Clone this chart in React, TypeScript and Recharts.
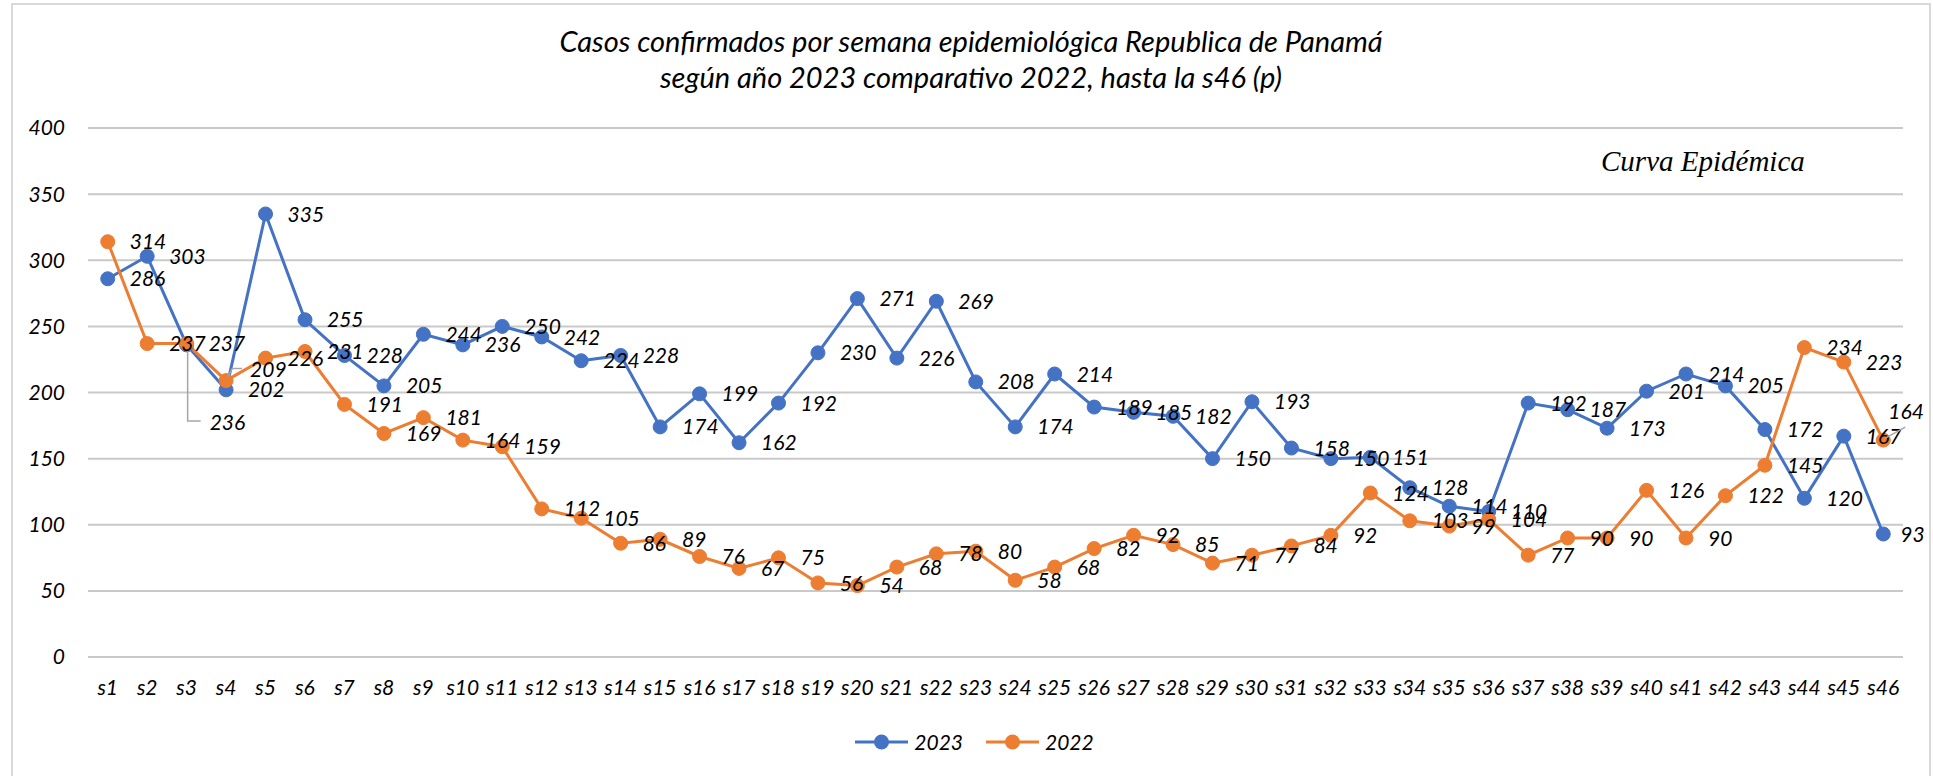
import React from 'react';
import { LineChart, Line, XAxis, YAxis, CartesianGrid, Legend, LabelList, Customized } from 'recharts';

const weeks = ['s1','s2','s3','s4','s5','s6','s7','s8','s9','s10','s11','s12','s13','s14','s15','s16','s17','s18','s19','s20','s21','s22','s23','s24','s25','s26','s27','s28','s29','s30','s31','s32','s33','s34','s35','s36','s37','s38','s39','s40','s41','s42','s43','s44','s45','s46'];
const cases2023 = [286,303,236,202,335,255,228,205,244,236,250,242,224,228,174,199,162,192,230,271,226,269,208,174,214,189,185,182,150,193,158,150,151,128,114,110,192,187,173,201,214,205,172,120,167,93];
const cases2022 = [314,237,237,209,226,231,191,169,181,164,159,112,105,86,89,76,67,75,56,54,68,78,80,58,68,82,92,85,71,77,84,92,124,103,99,104,77,90,90,126,90,122,145,234,223,164];
const seriesNames = ['2023', '2022'];
const yTicks = [0,50,100,150,200,250,300,350,400];
const titleLines = ['Casos confirmados por semana epidemiológica Republica de Panamá', 'según año 2023 comparativo 2022, hasta la s46 (p)'];
const annotation = 'Curva Epidémica';

const data = weeks.map((w, i) => ({ week: w, y2023: cases2023[i], y2022: cases2022[i] }));

const W = 1933;
const H = 776;
const FONT = 'Lato, "Open Sans", sans-serif';
const BLUE = '#4472C4';
const ORANGE = '#ED7D31';
const PLOT_W = W - 88 - 30;
const HALF_BAND = PLOT_W / weeks.length / 2;

type Override = { dx: number; dy: number; leader?: number[][] };
const overrides: Record<string, Record<number, Override>> = {
  y2023: {
    2: { dx: 23, dy: 78, leader: [[1, 4], [1, 76], [14, 76]] },
    45: { dx: 17, dy: 0 },
  },
  y2022: {
    3: { dx: 24, dy: -11, leader: [[2, -4], [6, -12], [16, -12]] },
    45: { dx: 5, dy: -29, leader: [[2, -2], [22, -13]] },
  },
};

const makeLabel = (key: string) => (props: any) => {
  const x = props.x ?? props.viewBox?.x;
  const y = props.y ?? props.viewBox?.y;
  const idx = props.index;
  const ov = overrides[key][idx] || { dx: 22, dy: 0 };
  return (
    <g>
      {ov.leader && (
        <polyline
          points={ov.leader.map((p) => `${x + p[0]},${y + p[1]}`).join(' ')}
          fill="none"
          stroke="#a6a6a6"
          strokeWidth={1.5}
        />
      )}
      <text
        x={x + ov.dx}
        y={y + ov.dy}
        dy="0.36em"
        textAnchor="start"
        fill="#000"
        fontSize={21}
        fontStyle="italic"
        fontFamily={FONT}
      >
        {props.value}
      </text>
    </g>
  );
};

const XTick = (props: any) => {
  const { x, y, payload } = props;
  return (
    <text x={x} y={y + 38} textAnchor="middle" fill="#000" fontSize={21} fontStyle="italic" fontFamily={FONT}>
      {payload.value}
    </text>
  );
};

const Decorations = () => (
  <g>
    <rect x={12} y={4} width={1918} height={800} fill="none" stroke="#d9d9d9" strokeWidth={2} />
    <text x={971} y={52} textAnchor="middle" fill="#000" fontSize={29} fontStyle="italic" fontFamily={FONT}>
      {titleLines[0]}
    </text>
    <text x={971} y={88} textAnchor="middle" fill="#000" fontSize={29} fontStyle="italic" fontFamily={FONT}>
      {titleLines[1]}
    </text>
    <text x={1601} y={171} textAnchor="start" fill="#000" fontSize={29} fontStyle="italic" fontFamily='"Liberation Serif", "Times New Roman", serif'>
      {annotation}
    </text>
  </g>
);

const LegendContent = (props: any) => {
  const payload = [...(props.payload || [])].sort(
    (a: any, b: any) => seriesNames.indexOf(String(a.value)) - seriesNames.indexOf(String(b.value))
  );
  return (
    <div style={{ display: 'flex', justifyContent: 'center', alignItems: 'center', gap: 23 }}>
      {payload.map((p: any) => (
        <div key={p.value} style={{ display: 'flex', alignItems: 'center' }}>
          <svg width={53} height={30}>
            <line x1={0} y1={15} x2={53} y2={15} stroke={p.color} strokeWidth={3} />
            <circle cx={26.5} cy={15} r={7.5} fill={p.color} />
          </svg>
          <span style={{ marginLeft: 6, fontSize: 21, fontStyle: 'italic', fontFamily: FONT, color: '#000', lineHeight: '30px' }}>
            {p.value}
          </span>
        </div>
      ))}
    </div>
  );
};

export default function App() {
  return (
    <div style={{ position: 'absolute', left: 0, top: 0, width: W, height: H, background: '#fff' }}>
      <LineChart width={W} height={H} data={data} margin={{ top: 128, right: 30, bottom: 79, left: 0 }}>
        <Customized component={Decorations} />
        <CartesianGrid vertical={false} stroke="#c9c9c9" strokeWidth={2} />
        <XAxis
          dataKey="week"
          interval={0}
          height={40}
          padding={{ left: HALF_BAND, right: HALF_BAND }}
          axisLine={false}
          tickLine={false}
          tickSize={0}
          tickMargin={0}
          tick={<XTick />}
        />
        <YAxis
          domain={[0, 400]}
          ticks={yTicks}
          width={88}
          axisLine={false}
          tickLine={false}
          tickSize={0}
          tickMargin={23}
          tick={{ fill: '#000', fontSize: 21, fontStyle: 'italic', fontFamily: FONT }}
        />
        <Legend
          verticalAlign="middle"
          align="center"
          layout="horizontal"
          wrapperStyle={{ top: 727, left: 8, width: W, height: 30 }}
          content={<LegendContent />}
        />
        <Line
          name={seriesNames[0]}
          dataKey="y2023"
          stroke={BLUE}
          strokeWidth={3}
          dot={{ r: 7, fill: BLUE, stroke: BLUE, strokeWidth: 1 }}
          activeDot={false}
          isAnimationActive={false}
        >
          <LabelList dataKey="y2023" content={makeLabel('y2023')} />
        </Line>
        <Line
          name={seriesNames[1]}
          dataKey="y2022"
          stroke={ORANGE}
          strokeWidth={3}
          dot={{ r: 7, fill: ORANGE, stroke: ORANGE, strokeWidth: 1 }}
          activeDot={false}
          isAnimationActive={false}
        >
          <LabelList dataKey="y2022" content={makeLabel('y2022')} />
        </Line>
      </LineChart>
    </div>
  );
}
